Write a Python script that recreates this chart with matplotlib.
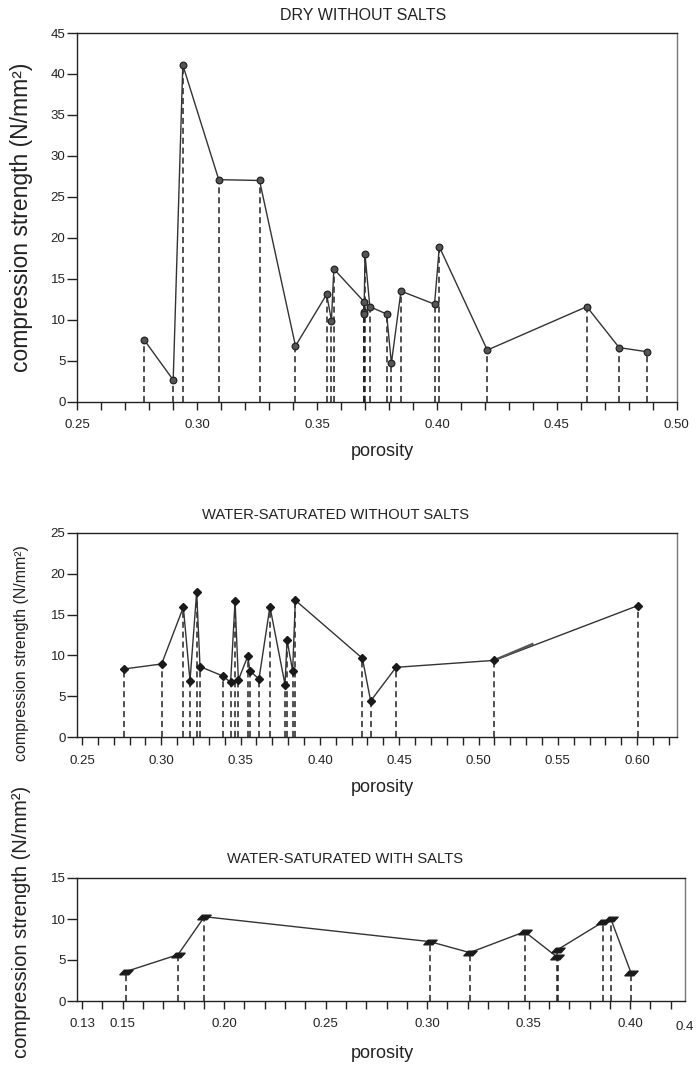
import numpy as np
import matplotlib.pyplot as plt
from matplotlib.path import Path
from matplotlib.ticker import MultipleLocator, FixedLocator

plt.rcParams['font.family'] = ['Liberation Sans', 'DejaVu Sans']

# dry samples, in the order the line joins them
dry_porosity = [0.278, 0.290, 0.294, 0.309, 0.326, 0.341, 0.354, 0.356, 0.357,
                0.3696, 0.3696, 0.3696, 0.370, 0.372, 0.379, 0.381, 0.385,
                0.399, 0.401, 0.421, 0.4625, 0.476, 0.4875]
dry_strength = [7.5, 2.65, 41.1, 27.1, 27.0, 6.8, 13.1, 9.9, 16.2,
                12.2, 11.0, 10.7, 18.0, 11.6, 10.7, 4.7, 13.5,
                11.9, 18.9, 6.3, 11.6, 6.6, 6.1]

# water-saturated, no salts
wet_porosity = [0.2765, 0.3002, 0.3139, 0.3181, 0.3223, 0.3244, 0.3387, 0.3437,
                0.3465, 0.3486, 0.3545, 0.3559, 0.3616, 0.3685, 0.3780, 0.3793,
                0.3828, 0.3845, 0.4268, 0.4320, 0.4480, 0.5100, 0.6006]
wet_strength = [8.35, 8.96, 15.9, 6.9, 17.76, 8.64, 7.5, 6.72,
                16.66, 7.0, 9.9, 8.1, 7.13, 15.97, 6.44, 11.9,
                8.1, 16.74, 9.65, 4.44, 8.55, 9.4, 16.1]
# stray short stroke next to the 0.51 point
wet_extra_x = [0.512, 0.534]
wet_extra_y = [9.6, 11.4]

# water-saturated with salts
salt_porosity = [0.1515, 0.1773, 0.1903, 0.3014, 0.3210, 0.3481, 0.3638,
                 0.3643, 0.3868, 0.3906, 0.4004]
salt_strength = [3.58, 5.65, 10.28, 7.24, 5.9, 8.45, 5.4,
                 6.26, 9.67, 9.96, 3.46]

titles = ["DRY WITHOUT SALTS", "WATER-SATURATED WITHOUT SALTS",
          "WATER-SATURATED WITH SALTS"]
ylab = "compression strength (N/mm²)"

W, H = 696, 1070
fig = plt.figure(figsize=(W / 100, H / 100), dpi=100)


def px_axes(left, top, right, bottom):
    return fig.add_axes([left / W, 1 - bottom / H, (right - left) / W, (bottom - top) / H])


def style(ax, xlim, ymax, xmajor, xlabels):
    ax.set_xlim(*xlim)
    ax.set_ylim(0, ymax)
    ax.set_yticks(np.arange(0, ymax + 1, 5))
    ax.xaxis.set_major_locator(FixedLocator(xmajor))
    ax.set_xticklabels(xlabels)
    ax.xaxis.set_minor_locator(MultipleLocator(0.01))
    ax.tick_params(axis='x', which='both', direction='out', length=5.5, width=1,
                   pad=7, labelsize=9.5, colors='#222')
    ax.tick_params(axis='y', direction='out', length=7.5, width=1, pad=1,
                   labelsize=9.5, colors='#222')
    for s in ['left', 'bottom', 'top']:
        ax.spines[s].set_color('#222')
        ax.spines[s].set_linewidth(1)
    ax.spines['right'].set_color('#777')
    ax.spines['right'].set_linewidth(1)


def draw(ax, x, y, **mk):
    ax.vlines(x, 0, y, colors='#222', linestyles=(0, (4, 2.5)), linewidth=1.1, zorder=1)
    ax.plot(x, y, color='#333', linewidth=1.0, zorder=2)
    ax.plot(x, y, linestyle='none', zorder=3, **mk)


# top
ax1 = px_axes(77.3, 33, 676.7, 401.7)
draw(ax1, dry_porosity, dry_strength, marker='o', markersize=4.8,
     markerfacecolor='#555', markeredgecolor='#222', markeredgewidth=0.9)
ticks1 = [0.25, 0.30, 0.35, 0.40, 0.45, 0.50]
style(ax1, (0.25, 0.5), 45, ticks1, ["%.2f" % t for t in ticks1])

# middle
x0m, sm = 0.25 - 4.7 / 1586, 1586
ax2 = px_axes(77.3, 532.7, 676.7, 737.3)
draw(ax2, wet_porosity, wet_strength, marker='D', markersize=4.3,
     markerfacecolor='#1a1a1a', markeredgecolor='#1a1a1a')
ax2.plot(wet_extra_x, wet_extra_y, color='#555', linewidth=1.6, zorder=2)
ticks2 = [0.25, 0.30, 0.35, 0.40, 0.45, 0.50, 0.55, 0.60]
style(ax2, (x0m, x0m + 599.4 / sm), 25, ticks2, ["%.2f" % t for t in ticks2])

# bottom
slant = Path([(-1, -0.35), (0.35, -0.35), (1, 0.35), (-0.35, 0.35), (-1, -0.35)],
             [Path.MOVETO, Path.LINETO, Path.LINETO, Path.LINETO, Path.CLOSEPOLY])
x0b, sb = 0.13 - 4.7 / 2030, 2030
ax3 = px_axes(77.3, 878, 685, 1001)
draw(ax3, salt_porosity, salt_strength, marker=slant, markersize=9.5,
     markerfacecolor='#1a1a1a', markeredgecolor='#1a1a1a')
ticks3 = [0.13, 0.15, 0.20, 0.25, 0.30, 0.35, 0.40]
style(ax3, (x0b, x0b + 607.7 / sb), 15, ticks3, ["%.2f" % t for t in ticks3])
ax3.xaxis.set_minor_locator(FixedLocator(np.arange(0.13, 0.425, 0.01)))
# last label sits at the right edge of the figure in the original
fig.text(685 / W, 1 - 1027 / H, "0.4", ha='center', va='center', fontsize=9.5, color='#222')

# titles, axis labels
for txt, xs, yc, fs in [(titles[0], 280, 15, 11.5), (titles[1], 201.7, 515, 10.6),
                        (titles[2], 226.7, 859, 10.6)]:
    fig.text(xs / W, 1 - yc / H, txt, ha='left', va='center', fontsize=fs, color='#222')

for yc in [452, 788, 1053]:
    fig.text(382 / W, 1 - yc / H, "porosity", ha='center', va='center', fontsize=13, color='#222')

for yc, fs in [(217, 16.5), (653, 11.5), (922, 14.5)]:
    fig.text(22 / W, 1 - yc / H, ylab, rotation=90, ha='center', va='center',
             fontsize=fs, color='#222')

fig.savefig("out.png", dpi=100)
